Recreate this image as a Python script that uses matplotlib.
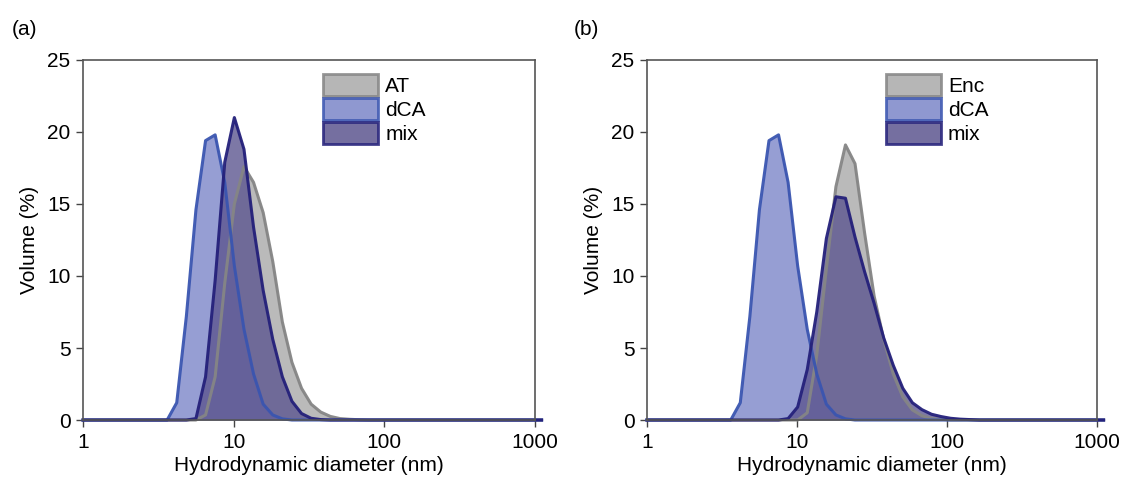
import matplotlib
matplotlib.use("Agg")
import matplotlib.pyplot as plt
from matplotlib.ticker import FixedLocator, FixedFormatter

plt.rcParams['font.family'] = ['Liberation Sans', 'DejaVu Sans']

# size bins (nm) of the DLS instrument, plus the 1 nm axis start
sizes = [1.0, 3.122, 3.615, 4.186, 4.850, 5.615, 6.504, 7.531, 8.722, 10.10,
         11.70, 13.54, 15.69, 18.17, 21.04, 24.36, 28.21, 32.67, 37.84, 43.82,
         50.75, 58.77, 68.06, 78.82, 91.28, 105.7, 122.4, 141.8, 164.2, 190.1,
         955.4, 1106]

# volume distributions (%), one value per bin
dca = [0, 0, 0, 1.2, 7.2, 14.6, 19.4, 19.8, 16.5, 10.7,
       6.3, 3.2, 1.1, 0.35, 0.08, 0, 0, 0, 0, 0,
       0, 0, 0, 0, 0, 0, 0, 0, 0, 0,
       0, 0]
at = [0, 0, 0, 0, 0, 0, 0.35, 3.0, 9.5, 15.0,
      17.6, 16.5, 14.4, 11.0, 6.8, 4.0, 2.2, 1.1, 0.55, 0.25,
      0.1, 0.05, 0.02, 0, 0, 0, 0, 0, 0, 0,
      0, 0]
mix_a = [0, 0, 0, 0, 0, 0.1, 3.0, 9.7, 17.9, 21.0,
         18.8, 13.4, 9.0, 5.6, 3.0, 1.3, 0.45, 0.12, 0.03, 0,
         0, 0, 0, 0, 0, 0, 0, 0, 0, 0,
         0, 0]
enc = [0, 0, 0, 0, 0, 0, 0, 0, 0, 0,
       0.5, 4.5, 10.5, 16.2, 19.1, 17.8, 13.0, 8.6, 5.6, 3.2,
       1.6, 0.7, 0.3, 0.1, 0.05, 0, 0, 0, 0, 0,
       0, 0]
mix_b = [0, 0, 0, 0, 0, 0, 0, 0, 0.1, 0.9,
         3.5, 7.5, 12.6, 15.5, 15.4, 12.7, 10.3, 8.1, 5.7, 3.8,
         2.2, 1.2, 0.72, 0.4, 0.24, 0.12, 0.06, 0.03, 0, 0,
         0, 0]

grey_fill, grey_edge = '#a9a9a9', '#858585'
blue_fill, blue_edge = '#7c86c8', '#3a55b0'
navy_fill, navy_edge = '#5d5690', '#24207a'
FS = 15


def draw(ax, series, labels, fills, edges):
    handles = []
    for y, lab, fc, ec in zip(series, labels, fills, edges):
        ax.fill_between(sizes, y, 0, color=fc, alpha=0.8, lw=0, clip_on=False)
        ax.plot(sizes, y, color=ec, lw=2.2, alpha=0.95, clip_on=False)
        handles.append(plt.Rectangle((0, 0), 1, 1, facecolor=fc, alpha=0.85,
                                     edgecolor=ec, lw=2))
    ax.set_xscale('log')
    ax.set_xlim(1, 1000)
    ax.set_ylim(0, 25)
    ax.xaxis.set_major_locator(FixedLocator([1, 10, 100, 1000]))
    ax.xaxis.set_major_formatter(FixedFormatter(['1', '10', '100', '1000']))
    ax.xaxis.set_minor_locator(FixedLocator([]))
    ax.set_yticks([0, 5, 10, 15, 20, 25])
    ax.tick_params(labelsize=FS, length=5, width=1, color='#444444', pad=4)
    for s in ax.spines.values():
        s.set_color('#555555')
        s.set_linewidth(1.2)
    ax.set_xlabel('Hydrodynamic diameter (nm)', fontsize=FS, labelpad=3)
    ax.set_ylabel('Volume (%)', fontsize=FS, labelpad=6)
    ax.legend(handles, labels, loc='upper left', bbox_to_anchor=(0.53, 0.96),
              frameon=False, fontsize=FS, handlelength=2.65,
              handleheight=1.25, labelspacing=0.08, handletextpad=0.35,
              borderaxespad=0, borderpad=0)


fig = plt.figure(figsize=(11.27, 4.98), dpi=100)
ax1 = fig.add_axes([0.0737, 0.1566, 0.401, 0.723])
ax2 = fig.add_axes([0.5741, 0.1566, 0.3993, 0.723])

draw(ax1, [at, dca, mix_a], ['AT', 'dCA', 'mix'],
     [grey_fill, blue_fill, navy_fill], [grey_edge, blue_edge, navy_edge])
draw(ax2, [enc, dca, mix_b], ['Enc', 'dCA', 'mix'],
     [grey_fill, blue_fill, navy_fill], [grey_edge, blue_edge, navy_edge])

fig.text(0.010, 0.93, '(a)', fontsize=FS)
fig.text(0.509, 0.93, '(b)', fontsize=FS)

fig.savefig('out.png', dpi=100)
